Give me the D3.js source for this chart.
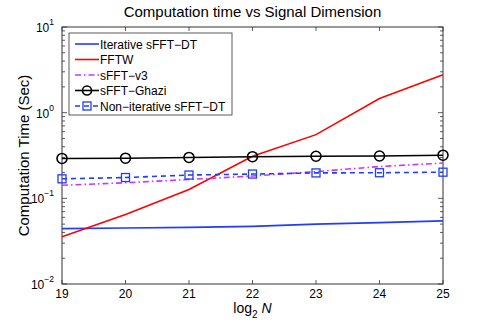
<!DOCTYPE html>
<html>
<head>
<meta charset="utf-8">
<script src="https://cdn.jsdelivr.net/npm/d3@7"></script>
<style>
  body { margin: 0; background: #fff; }
  svg text { font-family: "Liberation Sans", Arial, sans-serif; fill: #000; }
</style>
</head>
<body>
<div id="chart"></div>
<script>
// data
const log2N = [19, 20, 21, 22, 23, 24, 25];
const iterative = [0.0443, 0.045, 0.0458, 0.047, 0.050, 0.052, 0.0545];
const fftw = [0.0355, 0.0646, 0.127, 0.31, 0.554, 1.46, 2.77];
const sfftV3 = [0.142, 0.152, 0.166, 0.182, 0.205, 0.235, 0.258];
const ghazi = [0.292, 0.294, 0.30, 0.306, 0.31, 0.312, 0.319];
const nonIterative = [0.169, 0.175, 0.187, 0.192, 0.198, 0.199, 0.202];
const yTickExps = [-2, -1, 0, 1];

const series = [
  { name: "Iterative sFFT\u2212DT", values: iterative, color: "#1f3cff", dash: null, marker: null },
  { name: "FFTW", values: fftw, color: "#ff0000", dash: null, marker: null },
  { name: "sFFT\u2212v3", values: sfftV3, color: "#cc33ff", dash: "6,3,1.5,3", marker: null },
  { name: "sFFT\u2212Ghazi", values: ghazi, color: "#000000", dash: null, marker: "circle" },
  { name: "Non\u2212iterative sFFT\u2212DT", values: nonIterative, color: "#1f3cff", dash: "5,4", marker: "square" }
];

const W = 491, H = 331;
const margin = { top: 27, right: 48, bottom: 47, left: 62 };
const width = W - margin.left - margin.right;
const height = H - margin.top - margin.bottom;

const svg = d3.select("#chart").append("svg")
  .attr("width", W)
  .attr("height", H);

const g = svg.append("g")
  .attr("transform", "translate(" + margin.left + "," + margin.top + ")");

const x = d3.scaleLinear().domain([19, 25]).range([0, width]);
const y = d3.scaleLog().domain([0.01, 10]).range([height, 0]);

// minor + major ticks for the log axis
const minorTicks = [];
for (let e = -2; e < 1; e++) {
  for (let m = 2; m <= 9; m++) minorTicks.push(m * Math.pow(10, e));
}

// y ticks (left and right, inward)
g.selectAll(".ymin").data(minorTicks).join("g")
  .each(function(d) {
    const yy = y(d);
    d3.select(this).append("line").attr("x1", 0).attr("x2", 3).attr("y1", yy).attr("y2", yy);
    d3.select(this).append("line").attr("x1", width).attr("x2", width - 3).attr("y1", yy).attr("y2", yy);
  })
  .attr("stroke", "#333").attr("stroke-width", 0.8);

g.selectAll(".ymaj").data(yTickExps).join("g")
  .each(function(e) {
    const yy = y(Math.pow(10, e));
    d3.select(this).append("line").attr("x1", 0).attr("x2", 5).attr("y1", yy).attr("y2", yy);
    d3.select(this).append("line").attr("x1", width).attr("x2", width - 5).attr("y1", yy).attr("y2", yy);
  })
  .attr("stroke", "#333").attr("stroke-width", 0.8);

// x ticks (top and bottom, inward)
g.selectAll(".xt").data(log2N).join("g")
  .each(function(d) {
    const xx = x(d);
    d3.select(this).append("line").attr("x1", xx).attr("x2", xx).attr("y1", height).attr("y2", height - 4);
    d3.select(this).append("line").attr("x1", xx).attr("x2", xx).attr("y1", 0).attr("y2", 4);
  })
  .attr("stroke", "#333").attr("stroke-width", 0.8);

// frame
g.append("rect")
  .attr("width", width).attr("height", height)
  .attr("fill", "none").attr("stroke", "#333").attr("stroke-width", 1);

// tick labels
g.selectAll(".xl").data(log2N).join("text")
  .attr("x", d => x(d)).attr("y", height + 14)
  .attr("text-anchor", "middle").attr("font-size", 12)
  .text(d => d);

const yl = g.selectAll(".yl").data(yTickExps).join("text")
  .attr("x", -8).attr("y", d => y(Math.pow(10, d)) + 5)
  .attr("text-anchor", "end").attr("font-size", 12);
yl.append("tspan").text("10");
yl.append("tspan").attr("dy", -7).attr("font-size", 8.5).text(d => d < 0 ? "\u2212" + (-d) : d);

// lines
const line = d3.line()
  .x((d, i) => x(log2N[i]))
  .y(d => y(d));

const lines = g.append("g").attr("fill", "none").attr("stroke-width", 1.6);
series.forEach(s => {
  lines.append("path")
    .attr("d", line(s.values))
    .attr("stroke", s.color)
    .attr("stroke-dasharray", s.dash);
  if (s.marker === "circle") {
    lines.selectAll(null).data(s.values).join("circle")
      .attr("cx", (d, i) => x(log2N[i])).attr("cy", d => y(d))
      .attr("r", 5).attr("stroke", s.color);
  } else if (s.marker === "square") {
    lines.selectAll(null).data(s.values).join("rect")
      .attr("x", (d, i) => x(log2N[i]) - 4).attr("y", d => y(d) - 4)
      .attr("width", 8).attr("height", 8).attr("stroke", s.color).attr("stroke-width", 1.3);
  }
});

// legend
const legend = g.append("g").attr("transform", "translate(7,6)");
legend.append("rect")
  .attr("width", 163).attr("height", 82)
  .attr("fill", "#fff").attr("stroke", "#333").attr("stroke-width", 0.8);
series.forEach((s, i) => {
  const ly = 11 + i * 15.5;
  const row = legend.append("g").attr("transform", "translate(0," + ly + ")");
  row.append("line")
    .attr("x1", 6).attr("x2", 30).attr("y1", 0).attr("y2", 0)
    .attr("stroke", s.color).attr("stroke-width", 1.6)
    .attr("stroke-dasharray", s.dash);
  if (s.marker === "circle") {
    row.append("circle").attr("cx", 18).attr("cy", 0).attr("r", 4.5)
      .attr("fill", "none").attr("stroke", s.color).attr("stroke-width", 1.6);
  } else if (s.marker === "square") {
    row.append("rect").attr("x", 14).attr("y", -4).attr("width", 8).attr("height", 8)
      .attr("fill", "none").attr("stroke", s.color).attr("stroke-width", 1.3);
  }
  row.append("text").attr("x", 31).attr("y", 4.5)
    .attr("font-size", 12).text(s.name);
});

// title and axis labels
svg.append("text")
  .attr("x", margin.left + width / 2).attr("y", 17)
  .attr("text-anchor", "middle").attr("font-size", 15)
  .text("Computation time vs Signal Dimension");

const xlab = svg.append("text")
  .attr("x", margin.left + width / 2).attr("y", 313)
  .attr("text-anchor", "middle").attr("font-size", 14);
xlab.append("tspan").text("log");
xlab.append("tspan").attr("dy", 5).attr("font-size", 10).text("2");
xlab.append("tspan").attr("dy", -5).text(" ");
xlab.append("tspan").attr("font-style", "italic").text("N");

svg.append("text")
  .attr("transform", "translate(29," + (margin.top + height / 2) + ") rotate(-90)")
  .attr("text-anchor", "middle").attr("font-size", 15)
  .text("Computation Time (Sec)");
</script>
</body>
</html>
